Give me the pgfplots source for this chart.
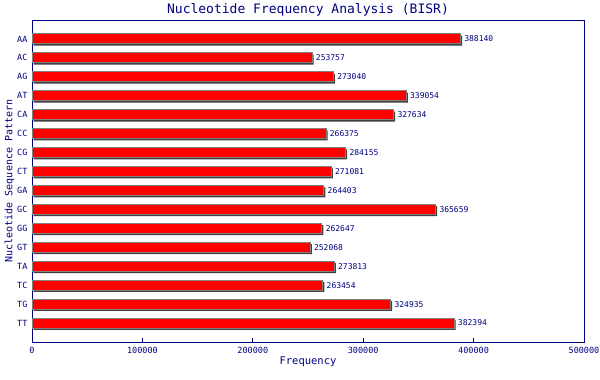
\documentclass[border=0pt]{standalone}
\usepackage{fontspec}
\setmainfont{DejaVu Sans Mono}
\usepackage{pgfplots}
\pgfplotsset{compat=1.18}
\definecolor{navy}{RGB}{0,0,128}
\definecolor{barred}{RGB}{255,0,0}
\definecolor{bargray}{RGB}{128,128,128}
\definecolor{shadowgray}{RGB}{64,64,64}
\pgfplotstableread{
val idx
388140 0
253757 1
273040 2
339054 3
327634 4
266375 5
284155 6
271081 7
264403 8
365659 9
262647 10
252068 11
273813 12
263454 13
324935 14
382394 15
}\datatable
\begin{document}
\begin{tikzpicture}[x=1pt,y=1pt]
\useasboundingbox (0,0) rectangle (600,380);
\begin{axis}[
  at={(32pt,38pt)}, anchor=south west,
  scale only axis, width=552pt, height=322pt,
  xbar, bar width=10pt, bar shift=0pt,
  xmin=0, xmax=500000,
  ymin=-1, ymax=16, y dir=reverse,
  ytick={0,...,15},
  yticklabels={AA,AC,AG,AT,CA,CC,CG,CT,GA,GC,GG,GT,TA,TC,TG,TT},
  xtick={0,100000,200000,300000,400000,500000},
  scaled x ticks=false,
  /pgf/number format/fixed,
  /pgf/number format/1000 sep={},
  /pgf/number format/assume math mode=true,
  xtick pos=bottom, tick align=inside, major tick length=4pt,
  ytick style={draw=none},
  xtick style={navy, line width=0.8pt},
  axis line style={navy, line width=1pt},
  tick label style={font=\fontsize{8.5}{10}\selectfont, text=navy},
  yticklabel style={xshift=-1pt},
  xticklabel style={yshift=-2pt},
  title={Nucleotide Frequency Analysis (BISR)},
  title style={font=\fontsize{13}{15}\selectfont, text=navy, yshift=-6pt},
  xlabel={Frequency},
  xlabel style={font=\fontsize{10.5}{12}\selectfont, text=navy, yshift=4pt},
  ylabel={Nucleotide Sequence Pattern},
  ylabel style={font=\fontsize{10}{12}\selectfont, text=navy, yshift=-4pt},
]
\addplot[fill=shadowgray, draw=none, xshift=1.5pt, yshift=-1.8pt] table[x=val, y=idx] {\datatable};
\addplot[fill=barred, draw=bargray, line width=1pt,
  nodes near coords,
  nodes near coords style={font=\fontsize{8}{10}\selectfont, text=navy, anchor=west, xshift=0pt},
  point meta=x,
  every node near coord/.append style={/pgf/number format/fixed, /pgf/number format/1000 sep={}, /pgf/number format/precision=0}
] table[x=val, y=idx] {\datatable};
\end{axis}
\end{tikzpicture}
\end{document}
